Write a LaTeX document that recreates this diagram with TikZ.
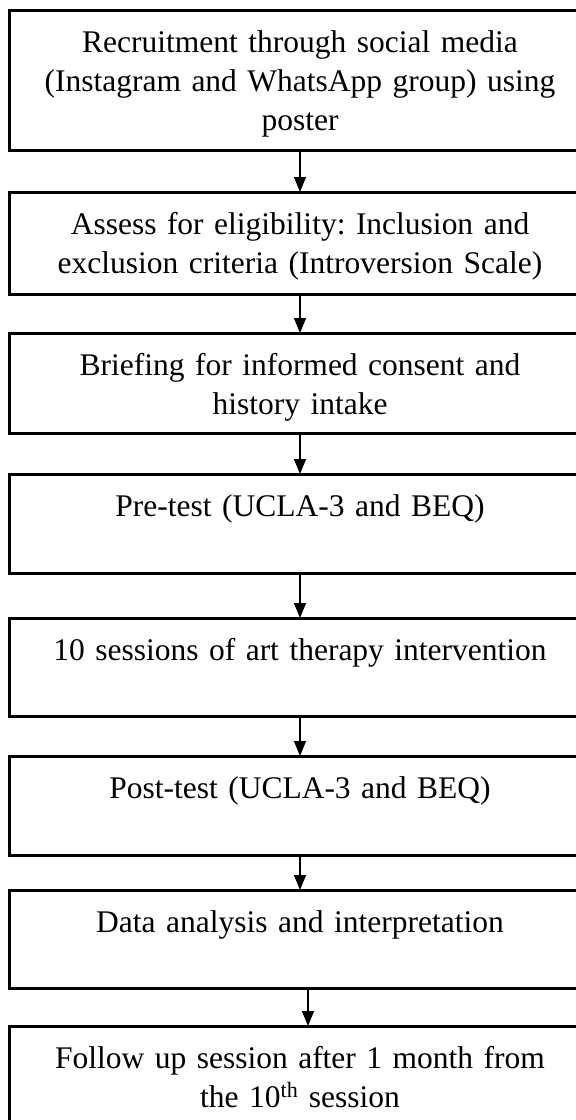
\documentclass[tikz,border=0pt]{standalone}
\usepackage{fontspec}
\setmainfont{Liberation Serif}
\usepackage{tikz}
\usetikzlibrary{arrows.meta,positioning}
\frenchspacing

\begin{document}
\begin{tikzpicture}[x=1pt,y=-1pt,->,>={Triangle[length=15pt,width=12pt]},
                    line width=1.3pt,node distance=40pt,
                    stepbox/.style={draw,line width=3pt,outer sep=0pt,minimum width=582pt,
                      text width=570pt,align=center,inner xsep=6pt,inner ysep=0pt,
                      text height=42pt,font=\fontsize{31.5}{39}\selectfont}]
  \useasboundingbox (0,0) rectangle (576,1120);

  \node[stepbox,text depth=98pt,anchor=north] (recruit) at (300,10)
    {Recruitment through social media\\(Instagram and WhatsApp group) using\\poster};
  \node[stepbox,text depth=60pt] (assess) [below=42pt of recruit]
    {Assess for eligibility: Inclusion and\\exclusion criteria (Introversion Scale)};
  \node[stepbox,text depth=58pt] (brief) [below=39pt of assess]
    {Briefing for informed consent and\\history intake};
  \node[stepbox,text depth=57pt] (pretest) [below=41pt of brief]
    {Pre-test (UCLA-3 and BEQ)};
  \node[stepbox,text depth=56pt] (sessions) [below=45pt of pretest]
    {10 sessions of art therapy intervention};
  \node[stepbox,text depth=57pt] (posttest) [below=40pt of sessions]
    {Post-test (UCLA-3 and BEQ)};
  \node[stepbox,text depth=56pt] (analysis) [below=35pt of posttest]
    {Data analysis and interpretation};
  \node[stepbox,text depth=100pt] (follow) [below=38pt of analysis]
    {Follow up session after 1 month from\\the 10\textsuperscript{th} session};

  \draw (recruit) -- (assess);
  \draw (assess) -- (brief);
  \draw (brief) -- (pretest);
  \draw (pretest) -- (sessions);
  \draw (sessions) -- (posttest);
  \draw (posttest) -- (analysis);
  \draw ([xshift=8pt]analysis.south) -- ([xshift=8pt]follow.north);
\end{tikzpicture}
\end{document}
